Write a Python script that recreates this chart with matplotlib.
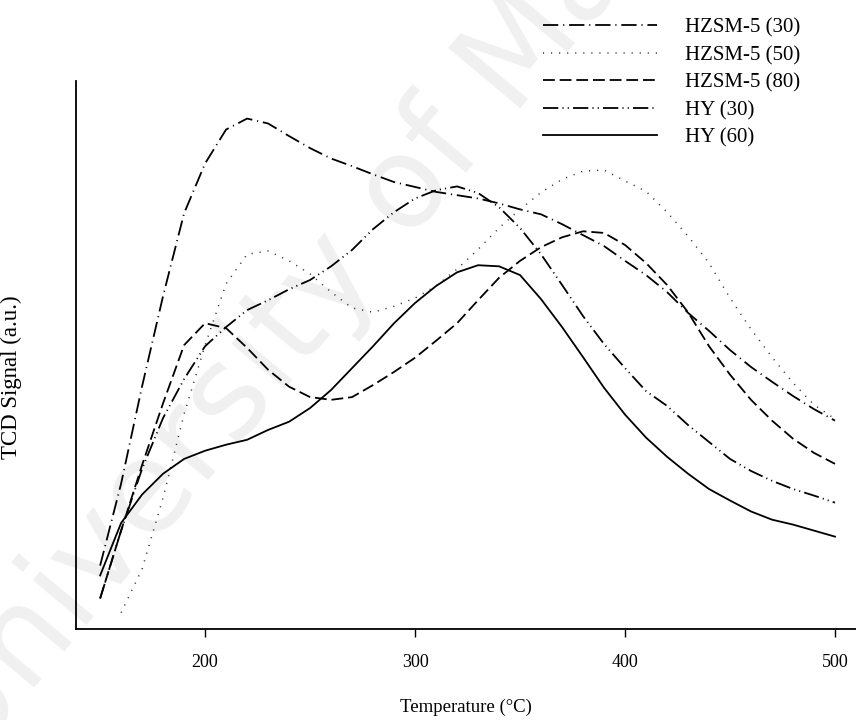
import matplotlib
matplotlib.use("Agg")
import matplotlib.pyplot as plt
import numpy as np

plt.rcParams['font.family'] = ['Liberation Serif', 'DejaVu Serif']
plt.rcParams['lines.scale_dashes'] = False

# temperature grid (°C) and TCD signal (a.u.)
temp = [150, 160, 170, 180, 190, 200, 210, 220, 230, 240, 250, 260,
        270, 280, 290, 300, 310, 320, 330, 340, 350, 360, 370, 380,
        390, 400, 410, 420, 430, 440, 450, 460, 470, 480, 490, 500]

hzsm5_30 = [11.5, 26.5, 44.3, 60.8, 75.9, 85.0, 91.2, 93.2, 92.3, 90.0, 87.8, 85.9,
            84.5, 83.0, 81.6, 80.7, 79.8, 79.2, 78.6, 77.7, 76.6, 75.7, 73.9, 71.9,
            69.9, 67.2, 64.6, 61.5, 57.7, 54.4, 50.9, 47.8, 45.1, 42.5, 40.1, 38.0]

hzsm5_50 = [np.nan, 2.9, 10.9, 23.9, 39.2, 51.8, 63.0, 68.4, 69.0, 67.2, 64.8, 61.5,
            58.6, 57.8, 58.9, 60.4, 62.6, 65.7, 69.3, 73.2, 76.6, 79.7, 82.1, 83.6,
            83.8, 81.8, 79.9, 76.1, 71.7, 66.8, 60.4, 54.7, 49.6, 44.9, 40.9, 38.3]

hzsm5_80 = [5.5, 17.9, 29.9, 41.2, 51.8, 55.8, 54.9, 51.3, 47.3, 44.2, 42.3, 41.8,
            42.3, 44.5, 46.9, 49.5, 52.6, 55.8, 60.0, 64.1, 67.2, 69.7, 71.5, 72.6,
            72.3, 70.1, 66.8, 62.8, 57.8, 51.6, 46.4, 41.8, 38.0, 34.7, 32.1, 30.1]

hy_30 = [5.5, 17.9, 29.2, 38.5, 45.6, 51.6, 55.1, 58.2, 60.0, 62.0, 63.7, 66.2,
         69.2, 73.0, 76.1, 78.6, 80.1, 80.8, 79.6, 77.0, 73.2, 68.4, 62.8, 57.1,
         52.0, 47.6, 43.4, 40.7, 37.2, 34.1, 31.0, 28.8, 27.0, 25.5, 24.3, 23.0]

hy_60 = [9.7, 19.3, 24.5, 28.3, 31.0, 32.5, 33.6, 34.5, 36.3, 37.8, 40.3, 43.6,
         47.6, 51.6, 55.8, 59.5, 62.6, 65.1, 66.4, 66.2, 64.6, 60.2, 55.1, 49.6,
         44.0, 39.1, 34.9, 31.4, 28.3, 25.5, 23.4, 21.4, 19.9, 19.0, 17.9, 16.8]

fig = plt.figure(figsize=(8.56, 7.2), dpi=100)

# faint watermark behind the plot (kept under the axes)
fig.text(0.42, 0.66, "University of Malaya", fontsize=92, color='#f0f0f0',
         family='DejaVu Sans', rotation=50, ha='center', va='center', zorder=-1)

ax = fig.add_axes([0.089, 0.127, 0.911, 0.76])
ax.set_zorder(1)
ax.patch.set_alpha(0)

lw = 1.3
kw = dict(color='black', lw=lw, solid_joinstyle='round', dash_joinstyle='round')
ax.plot(temp, hzsm5_30, linestyle=(0, (11, 3.5, 0.8, 3.5)), label='HZSM-5 (30)', **kw)
ax.plot(temp, hzsm5_50, color='#333333', lw=1.1, linestyle=(0, (0.8, 5)), label='HZSM-5 (50)')
ax.plot(temp, hzsm5_80, linestyle=(0, (8.5, 3.5)), label='HZSM-5 (80)', **kw)
ax.plot(temp, hy_30, linestyle=(0, (11, 3, 0.8, 3, 0.8, 3)), label='HY (30)', **kw)
ax.plot(temp, hy_60, linestyle='-', label='HY (60)', **kw)

ax.set_xlim(138.6, 510)
ax.set_ylim(0, 100)
ax.set_xticks([200, 300, 400, 500])
ax.set_yticks([])
ax.tick_params(axis='x', length=6, width=1, pad=12, labelsize=13, direction='out')
for s in ['top', 'right']:
    ax.spines[s].set_visible(False)
for s in ['left', 'bottom']:
    ax.spines[s].set_linewidth(1.3)

ax.set_xlabel('Temperature (°C)', fontsize=13.5, labelpad=20)
ax.set_ylabel('TCD Signal (a.u.)', fontsize=16.5)
ax.yaxis.set_label_coords(-0.07, 0.46)

fig.legend(loc='upper left', bbox_to_anchor=(0.634, 0.975), frameon=False,
           fontsize=15, handlelength=5.47, handletextpad=1.35, labelspacing=0.38,
           borderpad=0, borderaxespad=0)

fig.savefig('out.png', dpi=100)
